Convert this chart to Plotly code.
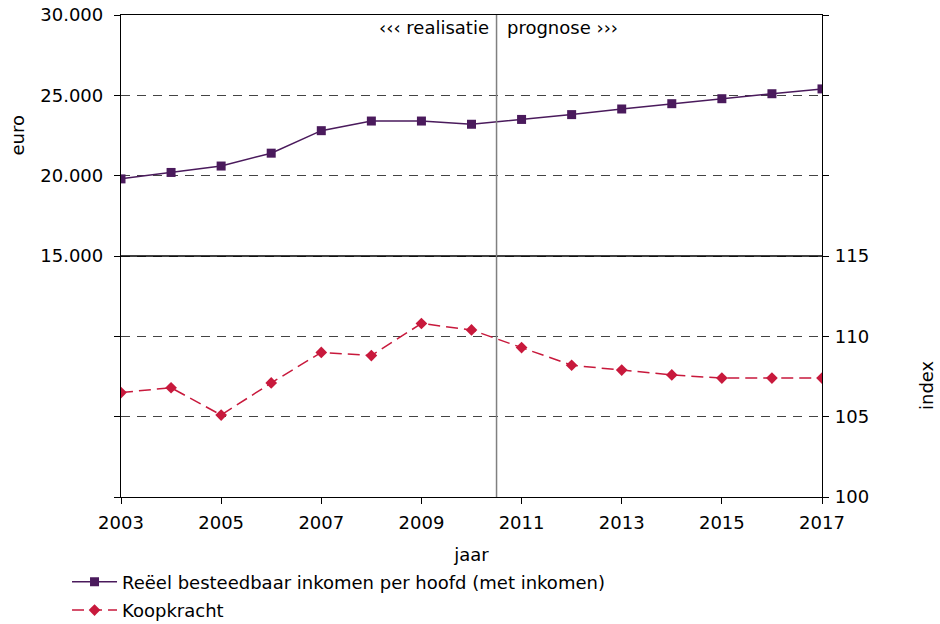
import plotly.graph_objects as go

years = list(range(2003, 2018))
inkomen = [19800, 20200, 20600, 21400, 22800, 23400, 23400, 23200, 23500, 23800,
           24150, 24480, 24790, 25100, 25400]
koopkracht = [106.5, 106.8, 105.1, 107.1, 109.0, 108.8, 110.8, 110.4, 109.3, 108.2,
              107.9, 107.6, 107.4, 107.4, 107.4]
x_ticks = list(range(2003, 2018, 2))
left_ticks = [0, 5000, 10000, 15000, 20000, 25000, 30000]
left_text = ["", "", "", "15.000", "20.000", "25.000", "30.000"]
right_ticks = [100, 105, 110, 115, 120, 125, 130]
right_text = ["100", "105", "110", "115", "", "", ""]
split_year = 2010.5
panel_divider = 15000

PURPLE = "#4a1a5c"
RED = "#c8193c"
FONT = "DejaVu Sans"
FS = 18

fig = go.Figure()
fig.add_trace(go.Scatter(
    x=years, y=inkomen, name="Reëel besteedbaar inkomen per hoofd (met inkomen)",
    mode="lines+markers", line=dict(color=PURPLE, width=1.5),
    marker=dict(symbol="square", size=9, color=PURPLE),
    yaxis="y", legendgroup="a"))
fig.add_trace(go.Scatter(
    x=years, y=koopkracht, name="Koopkracht",
    mode="lines+markers", line=dict(color=RED, width=1.5, dash="12px,6px"),
    marker=dict(symbol="diamond", size=9, color=RED),
    yaxis="y2", legendgroup="b"))

fig.add_shape(type="line", xref="paper", yref="y", x0=0, x1=1,
              y0=panel_divider, y1=panel_divider, line=dict(color="black", width=1.3))
fig.add_shape(type="line", xref="x", yref="paper", x0=split_year, x1=split_year,
              y0=0, y1=1, line=dict(color="#808080", width=1.5))

fig.add_annotation(x=split_year, xref="x", y=1, yref="paper", yanchor="top",
                   xanchor="right", xshift=-6, yshift=0, showarrow=False,
                   text="‹‹‹ realisatie", font=dict(size=FS, color="black", family=FONT))
fig.add_annotation(x=split_year, xref="x", y=1, yref="paper", yanchor="top",
                   xanchor="left", xshift=8, yshift=0, showarrow=False,
                   text="prognose ›››", font=dict(size=FS, color="black", family=FONT))

fig.update_layout(
    width=940, height=624,
    margin=dict(l=121, r=118, t=15, b=127, autoexpand=False),
    paper_bgcolor="white", plot_bgcolor="white",
    font=dict(family=FONT, size=FS, color="black"),
    showlegend=True,
    legend=dict(x=-0.077, y=-0.138, xanchor="left", yanchor="top",
                traceorder="grouped", tracegroupgap=2, itemwidth=45,
                font=dict(size=FS, family=FONT), bgcolor="rgba(0,0,0,0)"),
    xaxis=dict(range=[2003, 2017], tickvals=x_ticks, ticks="outside", ticklen=6,
               tickcolor="black", showline=True, linecolor="black", linewidth=1.3,
               mirror=True, showgrid=False, zeroline=False, automargin=False,
               ticklabelstandoff=3,
               title=dict(text="jaar", standoff=16, font=dict(size=FS))),
    yaxis=dict(range=[0, 30000], tickvals=left_ticks, ticktext=left_text,
               ticks="outside", ticklen=6, tickcolor="black", automargin=False,
               ticklabelstandoff=7, ticklabeloverflow="allow",
               showline=True, linecolor="black", linewidth=1.3,
               showgrid=True, gridcolor="#444444", griddash="9px,7px", gridwidth=1,
               zeroline=False),
    yaxis2=dict(range=[100, 130], tickvals=right_ticks, ticktext=right_text,
                overlaying="y", side="right", ticks="outside", ticklen=6,
                tickcolor="black", showline=True, linecolor="black", linewidth=1.3,
                showgrid=False, zeroline=False, automargin=False,
                ticklabelstandoff=2),
)

fig.add_annotation(text="euro", xref="paper", yref="y", x=0, y=22500, xanchor="center",
                   yanchor="middle", xshift=-104, textangle=-90, showarrow=False,
                   font=dict(size=FS, family=FONT))
fig.add_annotation(text="index", xref="paper", yref="y2", x=1, y=106.97, xanchor="center",
                   yanchor="middle", xshift=104, textangle=-90, showarrow=False,
                   font=dict(size=FS, family=FONT))

fig.write_html("out.html", config={"displayModeBar": False},
               post_script="document.body.style.margin='0';")
